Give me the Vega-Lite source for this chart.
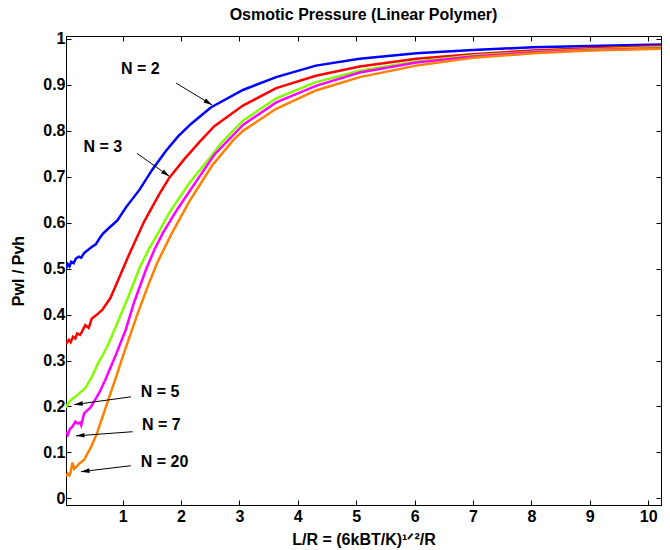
{
  "$schema": "https://vega.github.io/schema/vega-lite/v6.json",
  "width": 595,
  "height": 469,
  "autosize": {"type": "none"},
  "padding": {"left": 66, "top": 36, "right": 9, "bottom": 45},
  "background": "white",
  "title": {"text": "Osmotic Pressure (Linear Polymer)", "font": "Liberation Sans", "fontSize": 16, "fontWeight": "bold", "color": "black", "anchor": "middle", "offset": 8},
  "config": {
    "view": {"stroke": "black", "strokeWidth": 1},
    "axis": {"labelFont": "Liberation Sans", "labelFontSize": 16, "labelFontWeight": "bold", "labelColor": "black", "titleFont": "Liberation Sans", "titleFontSize": 16, "titleFontWeight": "bold", "titleColor": "black", "domainColor": "black", "tickColor": "black", "grid": false, "tickSize": -5}
  },
  "datasets": {
    "curves": [
      {"N": "2", "x": 0.03, "y": 0.5}, {"N": "2", "x": 0.06, "y": 0.51}, {"N": "2", "x": 0.09, "y": 0.505}, {"N": "2", "x": 0.12, "y": 0.515}, {"N": "2", "x": 0.16, "y": 0.512}, {"N": "2", "x": 0.2, "y": 0.522}, {"N": "2", "x": 0.25, "y": 0.526}, {"N": "2", "x": 0.29, "y": 0.524}, {"N": "2", "x": 0.34, "y": 0.534}, {"N": "2", "x": 0.4, "y": 0.54}, {"N": "2", "x": 0.47, "y": 0.547}, {"N": "2", "x": 0.54, "y": 0.553}, {"N": "2", "x": 0.6, "y": 0.565}, {"N": "2", "x": 0.66, "y": 0.576}, {"N": "2", "x": 0.77, "y": 0.589}, {"N": "2", "x": 0.91, "y": 0.605}, {"N": "2", "x": 1.06, "y": 0.634}, {"N": "2", "x": 1.29, "y": 0.672}, {"N": "2", "x": 1.51, "y": 0.716}, {"N": "2", "x": 1.74, "y": 0.756}, {"N": "2", "x": 1.95, "y": 0.788}, {"N": "2", "x": 2.17, "y": 0.815}, {"N": "2", "x": 2.51, "y": 0.851}, {"N": "2", "x": 3.06, "y": 0.889}, {"N": "2", "x": 3.63, "y": 0.917}, {"N": "2", "x": 4.31, "y": 0.942}, {"N": "2", "x": 5.06, "y": 0.957}, {"N": "2", "x": 6.03, "y": 0.969}, {"N": "2", "x": 7.0, "y": 0.976}, {"N": "2", "x": 8.03, "y": 0.982}, {"N": "2", "x": 9.0, "y": 0.985}, {"N": "2", "x": 10.22, "y": 0.988},
      {"N": "3", "x": 0.03, "y": 0.336}, {"N": "3", "x": 0.08, "y": 0.345}, {"N": "3", "x": 0.11, "y": 0.34}, {"N": "3", "x": 0.15, "y": 0.352}, {"N": "3", "x": 0.19, "y": 0.348}, {"N": "3", "x": 0.22, "y": 0.359}, {"N": "3", "x": 0.27, "y": 0.356}, {"N": "3", "x": 0.3, "y": 0.362}, {"N": "3", "x": 0.36, "y": 0.377}, {"N": "3", "x": 0.42, "y": 0.371}, {"N": "3", "x": 0.47, "y": 0.391}, {"N": "3", "x": 0.56, "y": 0.4}, {"N": "3", "x": 0.65, "y": 0.41}, {"N": "3", "x": 0.79, "y": 0.436}, {"N": "3", "x": 0.9, "y": 0.468}, {"N": "3", "x": 1.09, "y": 0.525}, {"N": "3", "x": 1.37, "y": 0.603}, {"N": "3", "x": 1.63, "y": 0.663}, {"N": "3", "x": 1.8, "y": 0.698}, {"N": "3", "x": 2.06, "y": 0.739}, {"N": "3", "x": 2.31, "y": 0.775}, {"N": "3", "x": 2.57, "y": 0.81}, {"N": "3", "x": 3.06, "y": 0.855}, {"N": "3", "x": 3.63, "y": 0.893}, {"N": "3", "x": 4.31, "y": 0.92}, {"N": "3", "x": 5.06, "y": 0.94}, {"N": "3", "x": 6.03, "y": 0.957}, {"N": "3", "x": 7.0, "y": 0.967}, {"N": "3", "x": 8.03, "y": 0.975}, {"N": "3", "x": 9.0, "y": 0.98}, {"N": "3", "x": 10.22, "y": 0.985},
      {"N": "5", "x": 0.03, "y": 0.197}, {"N": "5", "x": 0.06, "y": 0.205}, {"N": "5", "x": 0.1, "y": 0.212}, {"N": "5", "x": 0.15, "y": 0.218}, {"N": "5", "x": 0.2, "y": 0.222}, {"N": "5", "x": 0.25, "y": 0.228}, {"N": "5", "x": 0.36, "y": 0.24}, {"N": "5", "x": 0.47, "y": 0.264}, {"N": "5", "x": 0.59, "y": 0.297}, {"N": "5", "x": 0.66, "y": 0.312}, {"N": "5", "x": 0.76, "y": 0.337}, {"N": "5", "x": 0.93, "y": 0.388}, {"N": "5", "x": 1.1, "y": 0.44}, {"N": "5", "x": 1.29, "y": 0.502}, {"N": "5", "x": 1.45, "y": 0.543}, {"N": "5", "x": 1.6, "y": 0.576}, {"N": "5", "x": 1.8, "y": 0.622}, {"N": "5", "x": 2.14, "y": 0.686}, {"N": "5", "x": 2.49, "y": 0.741}, {"N": "5", "x": 2.7, "y": 0.775}, {"N": "5", "x": 3.06, "y": 0.822}, {"N": "5", "x": 3.63, "y": 0.871}, {"N": "5", "x": 4.31, "y": 0.906}, {"N": "5", "x": 5.06, "y": 0.931}, {"N": "5", "x": 6.03, "y": 0.951}, {"N": "5", "x": 7.0, "y": 0.964}, {"N": "5", "x": 8.03, "y": 0.972}, {"N": "5", "x": 9.0, "y": 0.977}, {"N": "5", "x": 10.22, "y": 0.982},
      {"N": "7", "x": 0.03, "y": 0.145}, {"N": "7", "x": 0.06, "y": 0.138}, {"N": "7", "x": 0.1, "y": 0.152}, {"N": "7", "x": 0.14, "y": 0.156}, {"N": "7", "x": 0.19, "y": 0.167}, {"N": "7", "x": 0.23, "y": 0.163}, {"N": "7", "x": 0.27, "y": 0.165}, {"N": "7", "x": 0.29, "y": 0.159}, {"N": "7", "x": 0.34, "y": 0.185}, {"N": "7", "x": 0.45, "y": 0.198}, {"N": "7", "x": 0.54, "y": 0.217}, {"N": "7", "x": 0.6, "y": 0.23}, {"N": "7", "x": 0.7, "y": 0.257}, {"N": "7", "x": 0.87, "y": 0.308}, {"N": "7", "x": 1.05, "y": 0.366}, {"N": "7", "x": 1.2, "y": 0.428}, {"N": "7", "x": 1.4, "y": 0.498}, {"N": "7", "x": 1.54, "y": 0.54}, {"N": "7", "x": 1.69, "y": 0.578}, {"N": "7", "x": 1.94, "y": 0.63}, {"N": "7", "x": 2.26, "y": 0.69}, {"N": "7", "x": 2.57, "y": 0.748}, {"N": "7", "x": 3.06, "y": 0.813}, {"N": "7", "x": 3.63, "y": 0.862}, {"N": "7", "x": 4.31, "y": 0.898}, {"N": "7", "x": 5.06, "y": 0.927}, {"N": "7", "x": 6.03, "y": 0.949}, {"N": "7", "x": 7.0, "y": 0.962}, {"N": "7", "x": 8.03, "y": 0.971}, {"N": "7", "x": 9.0, "y": 0.976}, {"N": "7", "x": 10.22, "y": 0.98},
      {"N": "20", "x": 0.03, "y": 0.048}, {"N": "20", "x": 0.06, "y": 0.054}, {"N": "20", "x": 0.09, "y": 0.05}, {"N": "20", "x": 0.11, "y": 0.058}, {"N": "20", "x": 0.14, "y": 0.078}, {"N": "20", "x": 0.17, "y": 0.064}, {"N": "20", "x": 0.22, "y": 0.07}, {"N": "20", "x": 0.26, "y": 0.076}, {"N": "20", "x": 0.34, "y": 0.084}, {"N": "20", "x": 0.46, "y": 0.112}, {"N": "20", "x": 0.57, "y": 0.145}, {"N": "20", "x": 0.71, "y": 0.198}, {"N": "20", "x": 0.89, "y": 0.265}, {"N": "20", "x": 1.0, "y": 0.308}, {"N": "20", "x": 1.25, "y": 0.4}, {"N": "20", "x": 1.45, "y": 0.468}, {"N": "20", "x": 1.6, "y": 0.515}, {"N": "20", "x": 1.83, "y": 0.574}, {"N": "20", "x": 2.14, "y": 0.646}, {"N": "20", "x": 2.54, "y": 0.726}, {"N": "20", "x": 2.91, "y": 0.782}, {"N": "20", "x": 3.06, "y": 0.8}, {"N": "20", "x": 3.63, "y": 0.848}, {"N": "20", "x": 4.31, "y": 0.888}, {"N": "20", "x": 5.06, "y": 0.917}, {"N": "20", "x": 6.03, "y": 0.942}, {"N": "20", "x": 7.0, "y": 0.959}, {"N": "20", "x": 8.03, "y": 0.969}, {"N": "20", "x": 9.0, "y": 0.975}, {"N": "20", "x": 10.22, "y": 0.979}
    ],
    "notes": [
      {"label": "N = 2", "tx": 0.97, "ty": 0.934, "x1": 1.915, "y1": 0.904, "x2": 2.532, "y2": 0.8565},
      {"label": "N = 3", "tx": 0.33, "ty": 0.764, "x1": 1.246, "y1": 0.751, "x2": 1.8, "y2": 0.701},
      {"label": "N = 5", "tx": 1.31, "ty": 0.232, "x1": 1.143, "y1": 0.221, "x2": 0.171, "y2": 0.204},
      {"label": "N = 7", "tx": 1.33, "ty": 0.159, "x1": 1.171, "y1": 0.145, "x2": 0.2, "y2": 0.136},
      {"label": "N = 20", "tx": 1.31, "ty": 0.0796, "x1": 1.143, "y1": 0.071, "x2": 0.286, "y2": 0.058}
    ]
  },
  "layer": [
    {
      "data": {"name": "curves"},
      "mark": {"type": "line", "strokeWidth": 2.5, "clip": true},
      "encoding": {
        "x": {"field": "x", "type": "quantitative", "scale": {"domain": [0.03, 10.22], "nice": false, "zero": false},
              "axis": {"orient": "bottom", "values": [1, 2, 3, 4, 5, 6, 7, 8, 9, 10], "format": "d", "title": "L/R = (6kBT/K)¹ᐟ²/R", "titlePadding": 7, "labelPadding": 8}},
        "y": {"field": "y", "type": "quantitative", "scale": {"domain": [-0.0145, 1.0065], "nice": false, "zero": false},
              "axis": {"orient": "left", "values": [0, 0.1, 0.2, 0.3, 0.4, 0.5, 0.6, 0.7, 0.8, 0.9, 1], "format": "~g", "title": "Pwl / Pvh", "titlePadding": 16, "labelPadding": 6}},
        "color": {"field": "N", "type": "nominal", "scale": {"domain": ["2", "3", "5", "7", "20"], "range": ["#0000ff", "#ff0000", "#80ff00", "#ff00ff", "#ff8000"]}, "legend": null}
      }
    },
    {
      "data": {"name": "notes"},
      "mark": {"type": "rule", "color": "black", "strokeWidth": 1},
      "encoding": {
        "x": {"field": "x1", "type": "quantitative", "axis": {"orient": "top", "values": [1, 2, 3, 4, 5, 6, 7, 8, 9, 10], "labels": false, "title": null}},
        "y": {"field": "y1", "type": "quantitative", "axis": {"orient": "right", "values": [0, 0.1, 0.2, 0.3, 0.4, 0.5, 0.6, 0.7, 0.8, 0.9, 1], "labels": false, "title": null}},
        "x2": {"field": "x2"},
        "y2": {"field": "y2"}
      }
    },
    {
      "data": {"name": "notes"},
      "transform": [{"calculate": "atan2((datum.x2 - datum.x1) * 58.33, (datum.y2 - datum.y1) * 460) * 180 / PI", "as": "ang"}],
      "mark": {"type": "point", "shape": "M0,0L0.5,1.8L-0.5,1.8Z", "filled": true, "color": "black", "size": 90, "opacity": 1},
      "encoding": {
        "x": {"field": "x2", "type": "quantitative", "axis": null},
        "y": {"field": "y2", "type": "quantitative", "axis": null},
        "angle": {"field": "ang", "type": "quantitative", "scale": null}
      }
    },
    {
      "data": {"name": "notes"},
      "mark": {"type": "text", "align": "left", "baseline": "middle", "font": "Liberation Sans", "fontSize": 16, "fontWeight": "bold", "color": "black"},
      "encoding": {
        "x": {"field": "tx", "type": "quantitative", "axis": null},
        "y": {"field": "ty", "type": "quantitative", "axis": null},
        "text": {"field": "label"}
      }
    }
  ],
  "resolve": {"axis": {"x": "independent", "y": "independent"}}
}
